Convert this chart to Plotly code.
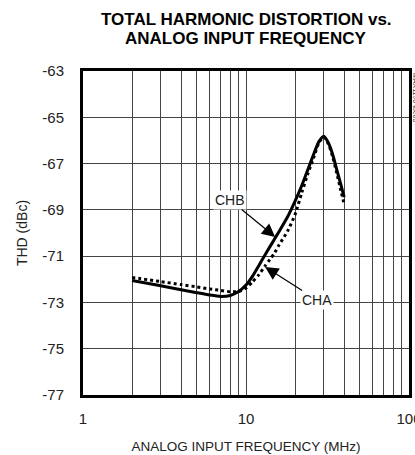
import math
import plotly.graph_objects as go

# ---- data ----
freq_mhz = [2, 3, 4, 5, 6, 7, 8, 9, 10, 11, 12, 13, 14, 15, 16, 18, 20, 22, 24, 26, 28, 30, 32, 34, 36, 38, 40]
thd_chb = [-72.05, -72.28, -72.45, -72.58, -72.68, -72.74, -72.70, -72.53, -72.25, -71.85, -71.40, -70.98,
           -70.60, -70.25, -69.92, -69.30, -68.62, -67.95, -67.25, -66.60, -66.05, -65.82, -66.10, -66.60,
           -67.25, -67.85, -68.45]
thd_cha = [-71.92, -72.10, -72.23, -72.33, -72.42, -72.48, -72.54, -72.53, -72.38, -72.10, -71.80, -71.45,
           -71.15, -70.85, -70.50, -69.92, -69.20, -68.25, -67.42, -66.75, -66.10, -65.85, -66.15, -66.70,
           -67.40, -68.10, -68.75]
x_tickvals = [1, 2, 3, 4, 5, 6, 7, 8, 9, 10, 20, 30, 40, 50, 60, 70, 80, 90, 100]
x_ticktext = ["1", "", "", "", "", "", "", "", "", "10", "", "", "", "", "", "", "", "", "100"]
y_tickvals = [-63, -65, -67, -69, -71, -73, -75, -77]
y_ticktext = ["-63", "-65", "-67", "-69", "-71", "-73", "-75", "-77"]
title_line1 = "TOTAL HARMONIC DISTORTION vs."
title_line2 = "ANALOG INPUT FREQUENCY"
x_title = "ANALOG INPUT FREQUENCY (MHz)"
y_title = "THD (dBc)"
label_b = "CHB"
label_a = "CHA"
chart_id = "MAX1190 toc05"

FONT_R = "'Liberation Sans', Arial, sans-serif"

fig = go.Figure()
fig.add_trace(go.Scatter(x=freq_mhz, y=thd_cha, mode="lines",
                         line=dict(color="black", width=3, dash="dot", shape="spline", smoothing=0.6),
                         name=label_a, showlegend=False))
fig.add_trace(go.Scatter(x=freq_mhz, y=thd_chb, mode="lines",
                         line=dict(color="black", width=3, shape="spline", smoothing=0.6),
                         name=label_b, showlegend=False))

fig.add_annotation(x=math.log10(15.1), y=-70.17, xref="x", yref="y", text=label_b,
                   showarrow=True, arrowhead=2, arrowsize=2.2, arrowwidth=1.2, arrowcolor="black",
                   ax=-45, ay=-37, bgcolor="white", borderpad=1,
                   font=dict(family=FONT_R, size=14, color="#222"))
fig.add_annotation(x=math.log10(13.1), y=-71.47, xref="x", yref="y", text=label_a,
                   showarrow=True, arrowhead=2, arrowsize=2.2, arrowwidth=1.2, arrowcolor="black",
                   ax=52, ay=33, bgcolor="white", borderpad=1,
                   font=dict(family=FONT_R, size=14, color="#222"))
fig.add_annotation(x=1.0, y=1.0, xref="paper", yref="paper", text=chart_id, textangle=90,
                   showarrow=False, xanchor="left", yanchor="top", xshift=1,
                   font=dict(family=FONT_R, size=7, color="#333"))
# title (two lines)
fig.add_annotation(x=0.5, y=1.0, xref="paper", yref="paper", text="<b>" + title_line1 + "</b>",
                   showarrow=False, xanchor="center", yanchor="middle", yshift=52,
                   font=dict(family=FONT_R, size=17, color="black"))
fig.add_annotation(x=0.5, y=1.0, xref="paper", yref="paper", text="<b>" + title_line2 + "</b>",
                   showarrow=False, xanchor="center", yanchor="middle", yshift=33,
                   font=dict(family=FONT_R, size=17, color="black"))

fig.update_layout(
    width=415, height=455,
    margin=dict(l=83, r=6, t=71, b=60, autoexpand=False),
    paper_bgcolor="white", plot_bgcolor="white",
    font=dict(family=FONT_R, size=15, color="#222"),
)
fig.update_xaxes(type="log", range=[0, 2], tickvals=x_tickvals, ticktext=x_ticktext,
                 showgrid=True, gridcolor="#444", gridwidth=1,
                 showline=True, linecolor="black", linewidth=3, mirror=True,
                 ticks="", ticklabelstandoff=8, zeroline=False, ticklabeloverflow="allow",
                 automargin=False, tickfont=dict(size=15),
                 title=dict(text=x_title, standoff=16, font=dict(size=13.5)))
fig.update_yaxes(range=[-77, -63], tickvals=y_tickvals, ticktext=y_ticktext,
                 showgrid=True, gridcolor="#444", gridwidth=1,
                 showline=True, linecolor="black", linewidth=3, mirror=True,
                 ticks="", ticklabelstandoff=13, zeroline=False, automargin=False,
                 tickfont=dict(size=15),
                 title=dict(text=y_title, standoff=12, font=dict(size=14)))

fig.write_html("out.html")
